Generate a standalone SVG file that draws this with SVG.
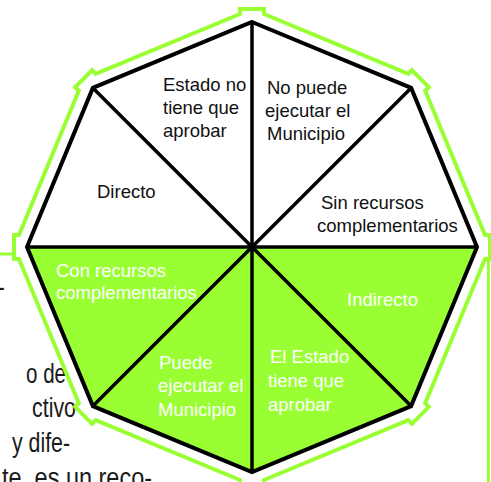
<svg xmlns="http://www.w3.org/2000/svg" width="491" height="482" viewBox="0 0 491 482">
<style>
.page{font-family:"Liberation Sans",Arial,sans-serif;font-size:27px;fill:#1a1a1a}
.lbl{font-family:"Liberation Sans",Arial,sans-serif;font-size:18.5px}
.dk{fill:#111}
.wt{fill:#ffffff}
.w{fill:#ffffff}
.g{fill:#99ff33}
.ring{fill:#ffffff;stroke:#99ff33;stroke-width:4;stroke-linejoin:miter}
.frame{stroke:#99ff33;stroke-width:3;fill:none}
.edge{fill:none;stroke:#000;stroke-width:4;stroke-linejoin:miter}
.spoke{stroke:#000;stroke-width:3.5}
</style>
<rect width="491" height="482" fill="#ffffff"/>
<g id="page-text">
<text class="page" x="-4" y="296">-</text>
<text class="page" x="26" y="383" textLength="40" lengthAdjust="spacingAndGlyphs">o de</text>
<text class="page" x="32" y="417" textLength="44" lengthAdjust="spacingAndGlyphs">ctivo</text>
<text class="page" x="12" y="452" textLength="58" lengthAdjust="spacingAndGlyphs">y dife-</text>
<text class="page" x="2" y="487" textLength="150" lengthAdjust="spacingAndGlyphs">te, es un reco-</text>
</g>
<g id="frame">
<line class="frame" x1="0" y1="254" x2="22" y2="254"/>
<line class="frame" x1="488.5" y1="257" x2="488.5" y2="482"/>
</g>
<g id="outer-ring">
<path class="ring" d="M240,14 L240,9 L264,9 L264,14 L408.3,73.8 L411.8,70.2 L428.8,87.2 L425.2,90.7 L485,235 L490,235 L490,259 L485,259 L425.2,403.3 L428.8,406.8 L411.8,423.8 L408.3,420.2 L264,480 L264,485 L240,485 L240,480 L95.7,420.2 L92.2,423.8 L75.2,406.8 L78.8,403.3 L19,259 L14,259 L14,235 L19,235 L78.8,90.7 L75.2,87.2 L92.2,70.2 L95.7,73.8 Z"/>
</g>
<g id="sector-estado-no-tiene">
<polygon class="w" points="252,247 92.9,87.9 252,22"/>
<text class="lbl dk"><tspan x="163" y="91">Estado no</tspan><tspan x="163" y="114">tiene que</tspan><tspan x="163" y="137">aprobar</tspan></text>
</g>
<g id="sector-no-puede">
<polygon class="w" points="252,247 252,22 411.1,87.9"/>
<text class="lbl dk"><tspan x="267" y="94">No puede</tspan><tspan x="265" y="117">ejecutar el</tspan><tspan x="267" y="140">Municipio</tspan></text>
</g>
<g id="sector-sin-recursos">
<polygon class="w" points="252,247 411.1,87.9 477,247"/>
<text class="lbl dk"><tspan x="321" y="209">Sin recursos</tspan><tspan x="317" y="232">complementarios</tspan></text>
</g>
<g id="sector-directo">
<polygon class="w" points="252,247 27,247 92.9,87.9"/>
<text class="lbl dk" x="97" y="198">Directo</text>
</g>
<g id="sector-con-recursos">
<polygon class="g" points="252,247 27,247 92.9,406.1"/>
<text class="lbl wt"><tspan x="56" y="277">Con recursos</tspan><tspan x="56" y="299">complementarios</tspan></text>
</g>
<g id="sector-puede">
<polygon class="g" points="252,247 92.9,406.1 252,472"/>
<text class="lbl wt"><tspan x="159" y="369">Puede</tspan><tspan x="158" y="392">ejecutar el</tspan><tspan x="158" y="416">Municipio</tspan></text>
</g>
<g id="sector-el-estado">
<polygon class="g" points="252,247 252,472 411.1,406.1"/>
<text class="lbl wt"><tspan x="270" y="363">El Estado</tspan><tspan x="268" y="387">tiene que</tspan><tspan x="268" y="411">aprobar</tspan></text>
</g>
<g id="sector-indirecto">
<polygon class="g" points="252,247 411.1,406.1 477,247"/>
<text class="lbl wt" x="347" y="306">Indirecto</text>
</g>
<g id="connectors">
<line class="spoke" x1="27" y1="247" x2="477" y2="247"/>
<line class="spoke" x1="252" y1="22" x2="252" y2="472"/>
<line class="spoke" x1="92.9" y1="87.9" x2="411.1" y2="406.1"/>
<line class="spoke" x1="411.1" y1="87.9" x2="92.9" y2="406.1"/>
<polygon class="edge" points="252,22 411.1,87.9 477,247 411.1,406.1 252,472 92.9,406.1 27,247 92.9,87.9"/>
</g>
</svg>
